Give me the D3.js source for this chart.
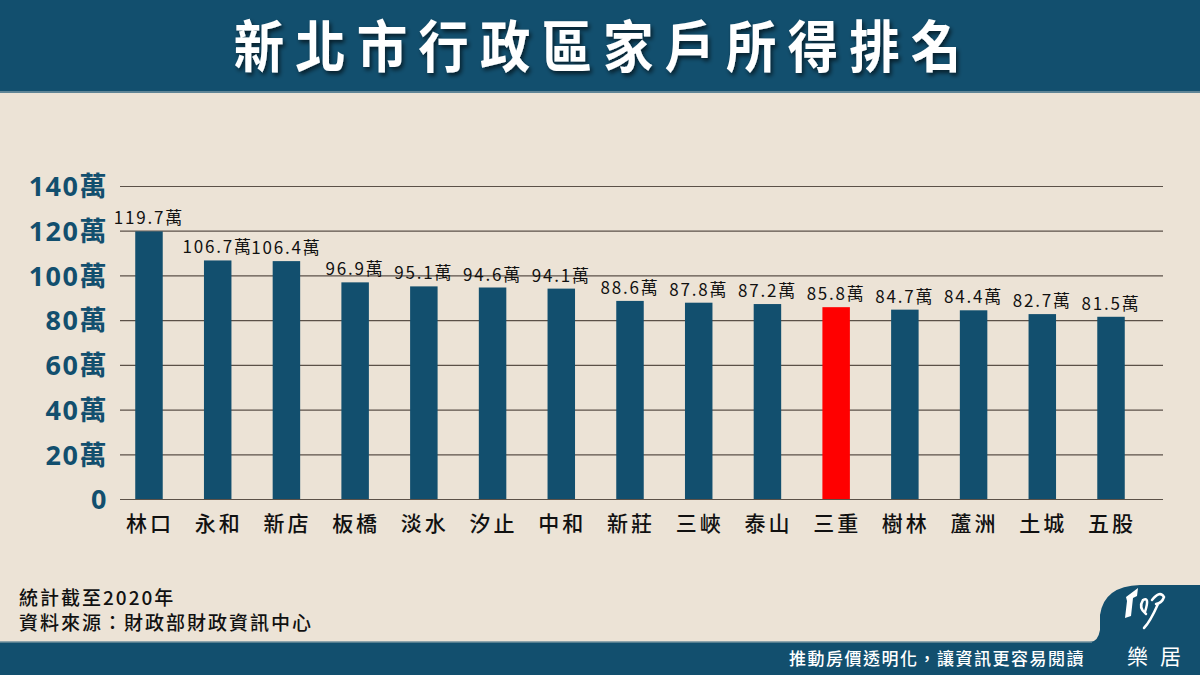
<!DOCTYPE html>
<html>
<head>
<meta charset="utf-8">
<script src="https://cdn.jsdelivr.net/npm/d3@7"></script>
<style>
  body { margin: 0; background: #ece3d6; }
  svg { display: block; font-family: "Noto Sans CJK TC", "Noto Sans", sans-serif; }
</style>
</head>
<body>
<div id="chart"></div>
<script>
// data
var districts = ["林口", "永和", "新店", "板橋", "淡水", "汐止", "中和", "新莊", "三峽", "泰山", "三重", "樹林", "蘆洲", "土城", "五股"];
var incomes = [119.7, 106.7, 106.4, 96.9, 95.1, 94.6, 94.1, 88.6, 87.8, 87.2, 85.8, 84.7, 84.4, 82.7, 81.5];
var highlight = "三重";
var yTicks = [0, 20, 40, 60, 80, 100, 120, 140];
var titleText = "新北市行政區家戶所得排名";
var noteLines = ["統計截至2020年", "資料來源：財政部財政資訊中心"];
var sloganText = "推動房價透明化，讓資訊更容易閱讀";

var W = 1200, H = 675;
var navy = "#124f6e", bg = "#ece3d6";

var svg = d3.select("#chart").append("svg")
  .attr("width", W).attr("height", H);

var defs = svg.append("defs");
var f = defs.append("filter").attr("id", "shadow")
  .attr("filterUnits", "userSpaceOnUse")
  .attr("x", 0).attr("y", 0).attr("width", W).attr("height", 92);
f.append("feDropShadow").attr("dx", 2).attr("dy", 3).attr("stdDeviation", 2).attr("flood-color", "#000").attr("flood-opacity", 0.6);

svg.append("rect").attr("width", W).attr("height", H).attr("fill", bg);

// header
svg.append("rect").attr("x", 0).attr("y", 0).attr("width", W).attr("height", 91).attr("fill", navy);
svg.append("rect").attr("x", 0).attr("y", 91).attr("width", W).attr("height", 2).attr("fill", "#5f8596");
var titleG = svg.append("g").attr("filter", "url(#shadow)");
titleG.append("text")
  .attr("transform", "translate(603,67) scale(0.9,1)")
  .attr("text-anchor", "middle")
  .attr("fill", "#fff")
  .attr("font-size", 56)
  .attr("font-weight", 700)
  .attr("letter-spacing", 12.4)
  .text(titleText);

// scales
var x = d3.scaleBand()
  .domain(districts)
  .range([121.5, 1138.5])
  .paddingInner(0.6)
  .paddingOuter(0.2);

var y = d3.scaleLinear()
  .domain([0, 140])
  .range([499, 186]);

// grid lines + y labels
var yAxis = svg.append("g")
  .attr("transform", "translate(120,0)")
  .call(d3.axisLeft(y).tickValues(yTicks).tickSize(-1043).tickPadding(12)
    .tickFormat(function(d) { return d === 0 ? "0" : d + "萬"; }));
yAxis.select(".domain").remove();
yAxis.selectAll(".tick line").attr("stroke", "#5b5148").attr("stroke-width", 1.2);
yAxis.selectAll(".tick text")
  .attr("fill", navy)
  .attr("font-size", 27)
  .attr("font-weight", 700)
  .attr("letter-spacing", 1.5)
  .attr("font-family", "'Noto Sans', 'Noto Sans CJK TC', sans-serif")
  .attr("dy", "0.36em");

// bars
svg.selectAll(".bar")
  .data(districts)
  .enter()
  .append("rect")
    .attr("class", "bar")
    .attr("x", function(d) { return x(d); })
    .attr("y", function(d, i) { return y(incomes[i]); })
    .attr("width", x.bandwidth())
    .attr("height", function(d, i) { return y(0) - y(incomes[i]); })
    .attr("fill", function(d) { return d === highlight ? "#ff0000" : navy; });

// value labels
svg.selectAll(".val")
  .data(districts)
  .enter()
  .append("text")
    .attr("class", "val")
    .attr("x", function(d) { return x(d) + x.bandwidth() / 2; })
    .attr("y", function(d, i) { return y(incomes[i]) - 7; })
    .attr("text-anchor", "middle")
    .attr("font-size", 17)
    .attr("fill", "#111")
    .attr("letter-spacing", 1.8)
    .text(function(d, i) { return incomes[i] + "萬"; });

// x labels
svg.selectAll(".cat")
  .data(districts)
  .enter()
  .append("text")
    .attr("class", "cat")
    .attr("x", function(d) { return x(d) + x.bandwidth() / 2 + 1; })
    .attr("y", 531)
    .attr("text-anchor", "middle")
    .attr("font-size", 21)
    .attr("font-weight", 500)
    .attr("letter-spacing", 3)
    .attr("fill", "#111")
    .text(function(d) { return d; });

// notes
svg.selectAll(".note")
  .data(noteLines)
  .enter()
  .append("text")
    .attr("x", 19)
    .attr("y", function(d, i) { return 605 + i * 25; })
    .attr("font-size", 19)
    .attr("font-weight", 500)
    .attr("letter-spacing", 2)
    .attr("fill", "#111")
    .text(function(d) { return d; });

// footer band with logo tab
svg.append("path")
  .attr("d", "M0,642 L1090,642 Q1098,642 1100,630 L1100,615 Q1104,586 1140,585 L1200,585 L1200,675 L0,675 Z")
  .attr("fill", navy);
svg.append("line").attr("x1", 0).attr("x2", 1092).attr("y1", 642).attr("y2", 642)
  .attr("stroke", "#6f8f9c").attr("stroke-width", 1.5);
svg.append("text")
  .attr("x", 1085).attr("y", 665)
  .attr("text-anchor", "end")
  .attr("font-size", 17)
  .attr("font-weight", 500)
  .attr("fill", "#fff")
  .attr("letter-spacing", 1.5)
  .text(sloganText);

// logo
var logo = svg.append("g").attr("fill", "none").attr("stroke", "#fff").attr("stroke-width", 2.5).attr("stroke-linecap", "round");
svg.append("path")
  .attr("d", "M1126,597 L1138,588 L1137,596 L1133,598 L1131,616 L1125,618 L1127,601 Z")
  .attr("fill", "#fff");
logo.append("path").attr("d", "M1145,612 Q1150,596 1143,600 Q1138,608 1146,614");
logo.append("path").attr("d", "M1152,600 Q1160,590 1164,597 Q1162,603 1156,604 M1158,604 Q1150,622 1144,628");
svg.append("text")
  .attr("x", 1160).attr("y", 664)
  .attr("text-anchor", "middle")
  .attr("font-size", 21)
  .attr("letter-spacing", 12)
  .attr("fill", "#fff")
  .text("樂居");
</script>
</body>
</html>
